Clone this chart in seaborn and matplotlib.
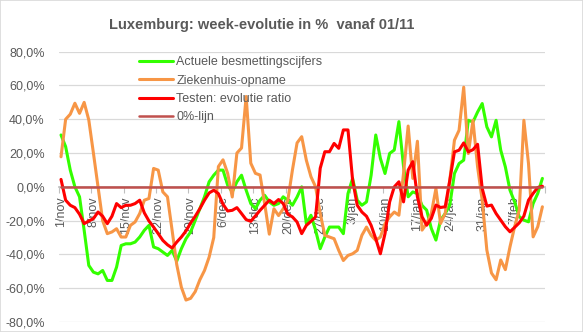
import numpy as np
import pandas as pd
import matplotlib
matplotlib.use("Agg")
import matplotlib.pyplot as plt
import seaborn as sns
from matplotlib.ticker import FuncFormatter, FixedLocator
from matplotlib.patches import Rectangle

# ---------------- data (week-evolutie in %) ----------------
titel = "Luxemburg: week-evolutie in %  vanaf 01/11"
reeks_namen = ["Actuele besmettingscijfers", "Ziekenhuis-opname",
               "Testen: evolutie ratio", "0%-lijn"]

tick_labels = ["1/nov", "8/nov", "15/nov", "22/nov", "29/nov", "6/dec", "13/dec",
               "20/dec", "27/dec", "3/jan", "10/jan", "17/jan", "24/jan", "31/jan", "7/feb"]

besmettingen = [30.7, 23.8, 9.9, 0, -5.9, -25.7, -46.5, -50.5, -51.5, -49.5,
                -55.4, -55.4, -47.5, -34.7, -33.7, -33.7, -32.7, -29.7, -25.7, -22.8,
                -35.6, -36.6, -38.6, -40.6, -37.6, -44, -36.6, -30.7, -26.7, -19.8,
                -12.9, -5.9, 3, 6.9, 9.9, 9.9, 1, -3, 3, 6.9,
                -2, -9.9, -12.9, -7.9, -5, -8.9, -10.9, -9.9, -5.9, -7.9,
                -10.9, -6, 0, -21.8, -16.8, -25.7, -36.6, -29.7, -23.8, -23.8,
                -23.8, -27.7, -4, 5, -7.9, -10.9, -8.9, 6.9, 30.7, 16.8,
                7.9, 19.8, 21.8, 38.6, 12, -5.9, -3, -4, -11, -13.8,
                -24.6, -31.5, -19.7, -15.8, -10.8, 7.9, 13.8, 15.8, 39.4, 38.4,
                44.3, 49.3, 35.5, 29.6, 39.4, 21.7, 11.8, -2, -8.9, -17.7,
                -19.7, -20.7, -9.9, -3.9, 5]

ziekenhuis = [17.8, 40, 43, 49.5, 43.5, 50, 39.6, 20, 0, -20,
              -27.7, -26.7, -24.8, -29.7, -29.7, -22.8, -20.8, -15.8, -7.9, -6.9,
              10.9, 9.9, -3, -5.9, -25.7, -46, -59.4, -67, -66, -62,
              -55, -49.5, -41.6, -30, 12, 16, 8, -6, 20, 23,
              53.5, 14, 8, 7, -10, -28, -13, -17, -13, -8,
              10, 26, 29.7, 15.8, 6, 0, -15.8, -28.7, -29.7, -30.7,
              -37.6, -43.6, -40.6, -39.6, -37.6, -28.7, -23.8, -28.7, -31.7, -29.7,
              -21.8, -17.8, -14.9, -16.8, 8, 36, 5, 27, -25.6, -21.7,
              -15.8, -1, -21.7, -15.8, 4, 27.6, 33.5, 59, 19.7, 39.4,
              11.8, -7.9, -37.4, -51, -55, -43.3, -49, -35.5, -23.6, -13.8,
              39.4, 13.8, -29.6, -23.6, -11.8]

testen = [4.4, -7.9, -10.9, -12.3, -16.2, -21.8, -20.2, -18.8, -14.9, -17.4,
          -21.8, -17.4, -9.9, -12.3, -10.9, -10.9, -9.9, -7.9, -15.4, -20.2,
          -23.8, -27.7, -31.7, -34.3, -36.2, -32.7, -29.7, -26.1, -21.4, -17.4,
          -12.9, -7.9, -3.6, -2, -4, -10.3, -14.3, -13.9, -12.3, -15.8,
          -19.4, -20.4, -17.2, -13.9, -10.9, -7.9, -9.9, -7.5, -9.9, -16.2,
          -17.8, -20.8, -27.7, -22.8, -20.4, -17.8, 11, 20.8, 20.8, 25.7,
          22.8, 33.7, 33.7, 4, -10.9, -14.9, -17.4, -22.8, -30.7, -39.6,
          -27.7, -8.9, 0, 3, -8.9, 9.9, 14.9, -5.9, -17.7, -22.7,
          -18.7, -10.8, -12.2, -11.8, 3.9, 20.7, 21.7, 26, 20.7, 22,
          25.2, -1, -11.4, -10.8, -15.8, -19.7, -23.6, -26.6, -24, -21.3,
          -17.3, -7.9, -3.9, -0.4, 0.4]

nul_lijn = [0.0] * len(besmettingen)

kleuren = ["#33FF00", "#F79646", "#FF0000", "#C0504D"]

# ---------------- figure ----------------
sns.set_theme(style="white")
plt.rcParams["font.family"] = ["Liberation Sans", "DejaVu Sans"]

W, H = 583, 332
fig = plt.figure(figsize=(W / 100, H / 100), dpi=100)
ax = fig.add_axes([58.7 / W, 10 / H, 486 / W, 270.3 / H])

dag = np.arange(len(besmettingen))
df = pd.DataFrame({"dag": dag, "b": besmettingen, "z": ziekenhuis,
                   "t": testen, "n": nul_lijn})

handles = []
for kol, naam, kleur, lw, z in zip(["b", "z", "t", "n"], reeks_namen, kleuren,
                                   [2.2, 2.2, 2.2, 1.8], [3, 4, 5, 6]):
    sns.lineplot(data=df, x="dag", y=kol, ax=ax, color=kleur, linewidth=lw,
                 zorder=z, label=naam, legend=False)
handles = ax.get_lines()

ax.set_xlim(-0.5, len(dag) - 0.5)
ax.set_ylim(-80, 80)
ax.set_yticks(np.arange(-80, 81, 20))
ax.yaxis.set_major_formatter(FuncFormatter(lambda v, p: f"{v:.1f}%".replace(".", ",")))
ax.grid(axis="y", color="#D9D9D9", linewidth=0.9, zorder=0)
ax.grid(axis="x", visible=False)
ax.set_axisbelow(True)
ax.set_xlabel("")
ax.set_ylabel("")

for s in ["top", "right", "left"]:
    ax.spines[s].set_visible(False)
ax.spines["bottom"].set_position(("data", 0))
ax.spines["bottom"].set_color("#BFBFBF")

tick_pos = [i * 7 for i in range(len(tick_labels))]
ax.xaxis.set_major_locator(FixedLocator(tick_pos))
ax.set_xticklabels(tick_labels, rotation=90, color="#595959", fontsize=9)
ax.xaxis.set_minor_locator(FixedLocator(np.arange(-0.5, len(dag), 7)))
ax.tick_params(axis="x", which="major", length=0, pad=7)
ax.tick_params(axis="x", which="minor", length=4, width=0.8, color="#BFBFBF",
               direction="out", bottom=True)
ax.tick_params(axis="y", length=0, pad=10, labelsize=9, labelcolor="#595959")
for lab in ax.get_xticklabels():
    lab.set_verticalalignment("top")

leg = fig.legend(handles=handles, labels=reeks_namen, loc="upper left",
                 bbox_to_anchor=(139 / W, 1 - 56.5 / H), frameon=False,
                 fontsize=9, handlelength=2.7, handletextpad=0.3,
                 labelspacing=0.5, borderpad=0, borderaxespad=0)
for t in leg.get_texts():
    t.set_color("#595959")

fig.text(262 / W, 1 - 25 / H, titel, ha="center", va="center", fontsize=10.5,
         fontweight="bold", color="#595959")

fig.patches.append(Rectangle((0, 0), 1, 1, transform=fig.transFigure, fill=False,
                             edgecolor="#D9D9D9", linewidth=1.2))

fig.savefig("out.png", dpi=100)
